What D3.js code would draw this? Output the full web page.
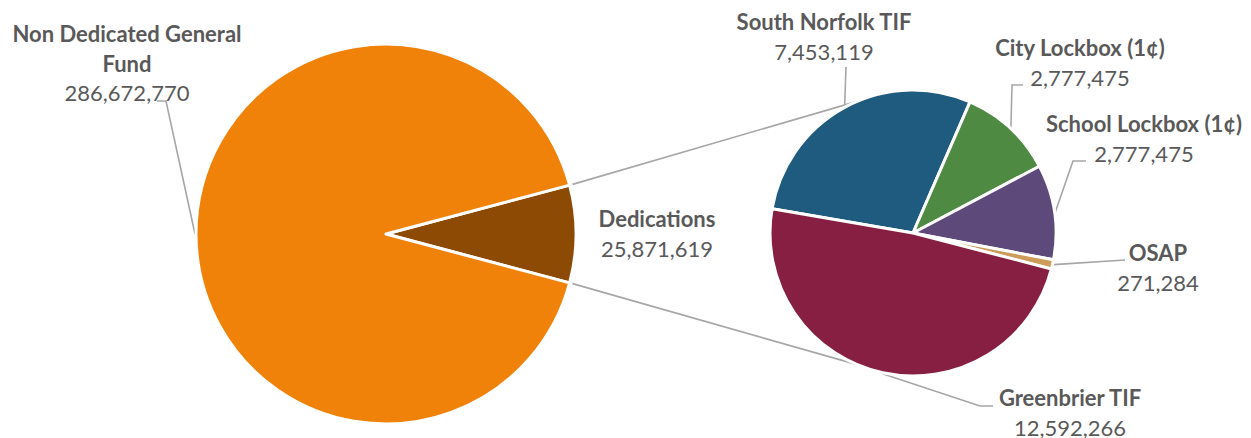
<!DOCTYPE html>
<html>
<head>
<meta charset="utf-8">
<script src="https://cdn.jsdelivr.net/npm/d3@7"></script>
<style>
  html, body { margin: 0; padding: 0; background: #ffffff; }
  svg { display: block; }
  .lbl { font-family: Lato, "Open Sans", "Noto Sans", sans-serif; fill: #595959; font-size: 22px; }
  .lbl .name { font-weight: 700; }
</style>
</head>
<body>
<svg id="chart" width="1251" height="438"></svg>
<script>
// Budget split: general fund vs. dedicated revenue, with the dedications broken out
const mainCategories = ["Dedications", "Non Dedicated General Fund"];
const mainValues = [25871619, 286672770];

const detailCategories = ["South Norfolk TIF", "City Lockbox (1¢)", "School Lockbox (1¢)", "OSAP", "Greenbrier TIF"];
const detailValues = [7453119, 2777475, 2777475, 271284, 12592266];

const mainColors = ["#8C4A04", "#F0820A"];
const detailColors = ["#1F5B7E", "#4E8A42", "#5E4A7A", "#CD9B5A", "#861F42"];

// Geometry of the two pies
const W = 1251, H = 438;
const mainPie = { cx: 386, cy: 234, r: 190 };
const subPie = { cx: 913, cy: 233, r: 143 };
const deg = Math.PI / 180;

// Label placement: name lines, centre x, first baseline, leader elbow / end (null = straight)
const mainLabels = [
  { lines: ["Dedications"], x: 657, y: 227, leader: null },
  { lines: ["Non Dedicated General", "Fund"], x: 127, y: 42, leader: [[166, 101], [157, 101]] }
];
const detailLabels = [
  { lines: ["South Norfolk TIF"], x: 824, y: 30, leader: [[846, 67]] },
  { lines: ["City Lockbox (1¢)"], x: 1080, y: 56, leader: [[1012, 85], [1023, 85]] },
  { lines: ["School Lockbox (1¢)"], x: 1144, y: 132, leader: [[1073, 161], [1086, 161]] },
  { lines: ["OSAP"], x: 1158, y: 261, leader: [[1125, 260]] },
  { lines: ["Greenbrier TIF"], x: 1070, y: 406, leader: [[980, 406], [993, 406]] }
];

const fmt = d3.format(",");
const svg = d3.select("#chart");

// Main pie: the dedications wedge is centred on the 3 o'clock direction
const mainTotal = d3.sum(mainValues);
const mainStart = Math.PI / 2 - Math.PI * mainValues[0] / mainTotal;
const mainArcs = d3.pie().sort(null)
  .startAngle(mainStart).endAngle(mainStart + 2 * Math.PI)(mainValues);

// Secondary pie
const subStart = 279.8 * deg;
const subArcs = d3.pie().sort(null)
  .startAngle(subStart).endAngle(subStart + 2 * Math.PI)(detailValues);

// point on a circle for a d3 pie angle (clockwise from 12 o'clock)
const polar = (c, r, a) => [c.cx + r * Math.sin(a), c.cy - r * Math.cos(a)];

const line = d3.line();
const gray = "#A6A6A6";

// Connector lines from the dedications wedge to the secondary pie
const ded = mainArcs[0];
const connectors = [
  [polar(mainPie, mainPie.r + 3, ded.startAngle), polar(subPie, subPie.r, 337 * deg)],
  [polar(mainPie, mainPie.r + 3, ded.endAngle), polar(subPie, subPie.r, 203 * deg)]
];
svg.append("g").selectAll("path").data(connectors).join("path")
  .attr("d", d => line(d))
  .attr("fill", "none").attr("stroke", gray).attr("stroke-width", 1.6);

// Leader lines start at the middle of each slice's outer edge
function leaders(arcs, labels, c) {
  return arcs.map((a, i) => {
    const lb = labels[i];
    if (!lb.leader) return null;
    const mid = (a.startAngle + a.endAngle) / 2;
    return [polar(c, c.r + 1, mid), ...lb.leader];
  }).filter(Boolean);
}
svg.append("g").selectAll("path")
  .data([...leaders(mainArcs, mainLabels, mainPie), ...leaders(subArcs, detailLabels, subPie)])
  .join("path")
  .attr("d", d => line(d))
  .attr("fill", "none").attr("stroke", gray).attr("stroke-width", 1.6);

// Slices
function drawPie(arcs, c, colors) {
  const arc = d3.arc().innerRadius(0).outerRadius(c.r);
  svg.append("g").attr("transform", `translate(${c.cx},${c.cy})`)
    .selectAll("path").data(arcs).join("path")
    .attr("d", arc)
    .attr("fill", (d, i) => colors[i])
    .attr("stroke", "#ffffff").attr("stroke-width", 3).attr("stroke-linejoin", "round");
}
drawPie(mainArcs, mainPie, mainColors);
drawPie(subArcs, subPie, detailColors);

// Data labels: bold category name(s) followed by the value
function drawLabels(labels, values) {
  const g = svg.append("g").attr("class", "lbl").attr("text-anchor", "middle");
  labels.forEach((lb, i) => {
    const t = g.append("text");
    lb.lines.forEach((s, k) => {
      t.append("tspan").attr("class", "name").attr("x", lb.x).attr("y", lb.y + k * 29.5).text(s);
    });
    t.append("tspan").attr("x", lb.x).attr("y", lb.y + lb.lines.length * 29.5).text(fmt(values[i]));
  });
}
drawLabels(mainLabels, mainValues);
drawLabels(detailLabels, detailValues);
</script>
</body>
</html>
